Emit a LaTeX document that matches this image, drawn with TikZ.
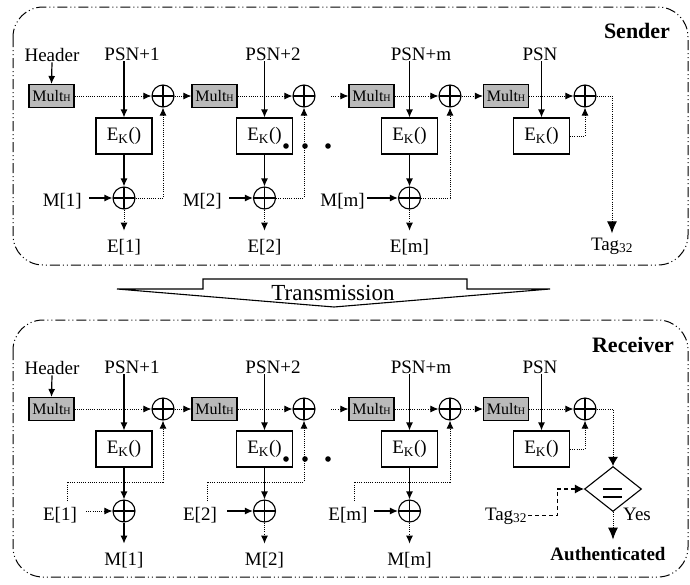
\documentclass[tikz,border=0pt]{standalone}
\usepackage{fontspec}
\setmainfont{Liberation Serif}
\usetikzlibrary{arrows.meta,shapes.geometric}
\newcommand{\multlbl}{Mult{\fontsize{10}{10}\selectfont H}}
\newcommand{\eklbl}{E\textsubscript{K}()}
\begin{document}
\begin{tikzpicture}[x=1pt,y=-1pt,
  font=\fontsize{19}{22}\selectfont,
  txt/.style={inner sep=1pt},
  multbox/.style={draw,fill=black!27,minimum width=45pt,minimum height=23pt,inner sep=0pt,line width=1.1pt,font=\fontsize{16}{18}\selectfont},
  ekbox/.style={draw,minimum width=56pt,minimum height=36pt,inner sep=0pt,line width=1.1pt},
  xorn/.style={draw,circle,minimum size=22pt,inner sep=0pt,line width=1.1pt,
    path picture={\draw[line width=1.1pt] (path picture bounding box.north) -- (path picture bounding box.south) (path picture bounding box.west) -- (path picture bounding box.east);}},
  sol/.style={line width=1.2pt,-{Latex[length=8pt,width=7pt]}},
  dotl/.style={line width=1pt,dash pattern=on 1pt off 1.2pt},
  dota/.style={dotl,-{Latex[length=8pt,width=7pt]}},
  bigtip/.style={-{Latex[length=12pt,width=10pt]}},
  dsh/.style={line width=1.1pt,dash pattern=on 4pt off 3pt},
  frame/.style={draw,line width=1pt,rounded corners=30pt,dash pattern=on 10pt off 3pt on 1pt off 3pt on 1pt off 3pt},
  boldlbl/.style={inner sep=1pt,font=\fontsize{22}{24}\selectfont\bfseries},
  ]
\useasboundingbox (0,0) rectangle (690,584);
\fill[white] (0,0) rectangle (690,584);

% frames
\draw[frame] (13,7) rectangle (688,265);
\draw[frame] (13,320) rectangle (688,577);

% transmission arrow
\draw[line width=1.1pt,fill=white] (117,289) -- (203,289) -- (203,279) -- (467,279) -- (467,289) -- (550,289) -- (334,307) -- cycle;
\node[txt,anchor=base,font=\fontsize{23}{25}\selectfont] (trans) at (333,300) {Transmission};

% common parts of both rows
\foreach \p/\dy in {s/0,r/313}{
\begin{scope}[yshift=-\dy pt]
\node[txt,anchor=base] (\p-hd) at (52,61) {Header};
\node[txt,anchor=base] (\p-psn1) at (132,60) {PSN+1};
\node[txt,anchor=base] (\p-psn2) at (273,60) {PSN+2};
\node[txt,anchor=base] (\p-psn3) at (421,60) {PSN+m};
\node[txt,anchor=base] (\p-psn4) at (540,60) {PSN};
\node[multbox] (\p-m1) at (51.5,96) {\multlbl};
\node[multbox] (\p-m2) at (214.5,96) {\multlbl};
\node[multbox] (\p-m3) at (371.5,96) {\multlbl};
\node[multbox] (\p-m4) at (506,96) {\multlbl};
\node[ekbox] (\p-ek1) at (124,136) {\eklbl};
\node[ekbox] (\p-ek2) at (264.5,136) {\eklbl};
\node[ekbox] (\p-ek3) at (409.5,136) {\eklbl};
\node[ekbox] (\p-ek4) at (541.5,136) {\eklbl};
\node[xorn] (\p-xu1) at (163,96) {};
\node[xorn] (\p-xu2) at (304,96) {};
\node[xorn] (\p-xu3) at (450,96) {};
\node[xorn] (\p-xu4) at (585,96) {};
\node[xorn] (\p-xl1) at (124,198) {};
\node[xorn] (\p-xl2) at (264.5,198) {};
\node[xorn] (\p-xl3) at (409.5,198) {};
\coordinate (\p-c3) at (331,96);
\fill (286,146) circle (2.8pt) (305,146) circle (2.8pt) (328,146) circle (2.8pt);
\draw[sol] (\p-hd.south) -- (\p-m1.north);
\foreach \i in {1,...,4}{\draw[sol] (\p-ek\i.north |- \p-psn\i.south) -- (\p-ek\i.north);}
\foreach \i in {1,2,3}{\draw[sol] (\p-ek\i.south) -- (\p-xl\i.north);}
\foreach \i in {1,...,4}{\draw[dota] (\p-m\i.east) -- (\p-xu\i.west);}
\draw[dota] (\p-xu1.east) -- (\p-m2.west);
\draw[dota] (\p-c3) -- (\p-m3.west);
\draw[dota] (\p-xu3.east) -- (\p-m4.west);
\draw[dota] (\p-ek4.east) -| (\p-xu4.south);
\end{scope}
}

% sender specifics
\node[boldlbl,anchor=base] (sendr) at (637,38) {Sender};
\node[txt,anchor=base east] (s-M1) at (83,206) {M[1]};
\node[txt,anchor=base east] (s-M2) at (223,206) {M[2]};
\node[txt,anchor=base east] (s-M3) at (366,206) {M[m]};
\node[txt,anchor=base] (s-E1) at (124,252) {E[1]};
\node[txt,anchor=base] (s-E2) at (264.5,252) {E[2]};
\node[txt,anchor=base] (s-E3) at (409.5,252) {E[m]};
\node[txt,anchor=base] (s-tag) at (612,250) {Tag\textsubscript{32}};
\draw[sol,shorten <=6pt] (s-M1.east |- s-xl1) -- (s-xl1.west);
\draw[sol,shorten <=6pt] (s-M2.east |- s-xl2) -- (s-xl2.west);
\draw[sol,shorten <=1pt] (s-M3.east |- s-xl3) -- (s-xl3.west);
\foreach \i in {1,2,3}{
  \draw[dota,shorten >=7pt] (s-xl\i.south) -- (s-E\i.north);
  \draw[dota] (s-xl\i.east) -| (s-xu\i.south);
}
\draw[dotl,bigtip,shorten >=3pt] (s-xu4.east) -| (s-tag.north);

% receiver specifics
\node[boldlbl,anchor=base] (recv) at (633,352) {Receiver};
\node[txt,anchor=base] (r-E1) at (60,520) {E[1]};
\node[txt,anchor=base] (r-E2) at (200,520) {E[2]};
\node[txt,anchor=base] (r-E3) at (348,520) {E[m]};
\node[txt,anchor=base] (r-M1) at (124,565) {M[1]};
\node[txt,anchor=base] (r-M2) at (264.5,565) {M[2]};
\node[txt,anchor=base] (r-M3) at (409.5,565) {M[m]};
\coordinate (r-f1) at (67,501);
\coordinate (r-f2) at (207,501);
\coordinate (r-f3) at (354,501);
\foreach \i in {1,2,3}{\draw[dota] (r-f\i) -- ++(0,-19) -| (r-xu\i.south);}
\draw[dota,shorten <=8pt] (r-E1.east |- r-xl1) -- (r-xl1.west);
\draw[sol,shorten <=9pt] (r-E2.east |- r-xl2) -- (r-xl2.west);
\draw[sol,shorten <=5pt] (r-E3.east |- r-xl3) -- (r-xl3.west);
\draw[sol,shorten >=7pt] (r-xl1.south) -- (r-M1.north);
\draw[dota,shorten >=7pt] (r-xl2.south) -- (r-M2.north);
\draw[dota,shorten >=7pt] (r-xl3.south) -- (r-M3.north);

\node[draw,diamond,minimum width=57pt,minimum height=45pt,inner sep=0pt,line width=1.1pt] (r-dia) at (613,489) {};
\draw[line width=1.8pt] (603,489) -- (622,489) (603,497) -- (622,497);
\draw[dotl,-{Latex[length=9pt,width=10pt]}] (r-xu4.east) -| (r-dia.north);
\node[txt,anchor=base] (r-tag) at (506,520) {Tag\textsubscript{32}};
\draw[dsh,-{Latex[length=9pt,width=9pt]}] (r-tag.east) -- ++(29,0) |- (r-dia.west);
\node[txt,anchor=base] (r-yes) at (637,520) {Yes};
\node[txt,anchor=base,font=\fontsize{19}{22}\selectfont\bfseries] (r-auth) at (608,560) {Authenticated};
\draw[dotl,bigtip,shorten >=6pt] (r-dia.south) -- (r-dia.south |- r-auth.north);
\end{tikzpicture}
\end{document}
